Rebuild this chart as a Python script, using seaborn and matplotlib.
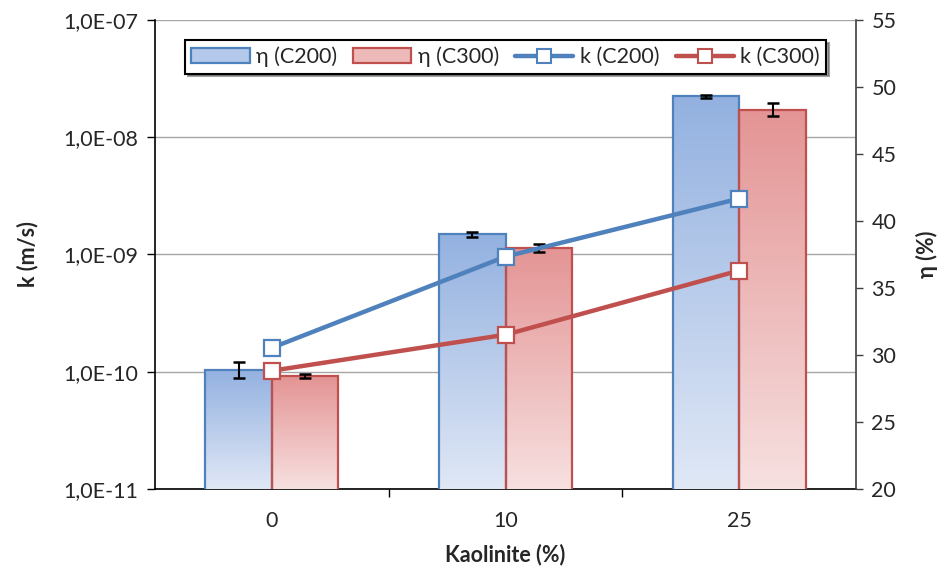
import numpy as np
import pandas as pd
import matplotlib
matplotlib.use("Agg")
import matplotlib.pyplot as plt
import seaborn as sns
from matplotlib.colors import LinearSegmentedColormap
from matplotlib.lines import Line2D
from matplotlib.patches import Patch

# ---- data ----
kaolinite = ["0", "10", "25"]
series = ["C200", "C300"]
eta_c200 = [28.9, 39.0, 49.3]
eta_c300 = [28.4, 38.0, 48.3]
eta_err_c200 = [0.6, 0.2, 0.1]
eta_err_c300 = [0.15, 0.3, 0.5]
k_c200 = [1.6e-10, 9.6e-10, 3.0e-9]
k_c300 = [1.02e-10, 2.07e-10, 7.3e-10]
k_ticks = [1e-11, 1e-10, 1e-9, 1e-8, 1e-7]
k_tick_labels = ["1,0E-11", "1,0E-10", "1,0E-09", "1,0E-08", "1,0E-07"]
eta_ticks = [20, 25, 30, 35, 40, 45, 50, 55]

blue = "#4f81bd"
red = "#c0504d"
blue_top, blue_bot = "#93b1e0", "#e0e8f6"
red_top, red_bot = "#e49494", "#f7e0e0"

FS = 15.5

sns.set_theme(style="white")
plt.rcParams["font.family"] = ["Lato", "DejaVu Sans"]

fig = plt.figure(figsize=(9.45, 5.73), dpi=100)
ax_k = fig.add_axes([0.164, 0.1466, 0.742, 0.8185])
ax_eta = ax_k.twinx()
ax_line = ax_k.twinx()

# ---- bars (eta, right axis) ----
df = pd.DataFrame({
    "Kaolinite": kaolinite * 2,
    "Series": [series[0]] * 3 + [series[1]] * 3,
    "eta": eta_c200 + eta_c300,
})
sns.barplot(data=df, x="Kaolinite", y="eta", hue="Series", order=kaolinite,
            hue_order=series, palette=[blue_top, red_top], width=0.57, gap=0,
            errorbar=None, legend=False, ax=ax_eta)
ax_eta.set_ylim(20, 55)
xlim = ax_eta.get_xlim()
ylo = ax_eta.get_ylim()[0]

grads = [(blue_top, blue_bot, blue), (red_top, red_bot, red)]
errs = [eta_err_c200, eta_err_c300]
for cont, (ctop, cbot, edge), err in zip(ax_eta.containers, grads, errs):
    cmap = LinearSegmentedColormap.from_list("g", [cbot, ctop])
    grad = np.linspace(0, 1, 256).reshape(-1, 1)
    centers, heights = [], []
    for p in cont.patches:
        x0, w, h = p.get_x(), p.get_width(), p.get_height()
        p.set_facecolor("none")
        p.set_edgecolor(edge)
        p.set_linewidth(1.6)
        p.set_zorder(3)
        im = ax_eta.imshow(grad, cmap=cmap, origin="lower", aspect="auto",
                           extent=[x0, x0 + w, ylo, h], zorder=2)
        im.set_clip_path(p)
        centers.append(x0 + w / 2)
        heights.append(h)
    ax_eta.errorbar(centers, heights, yerr=err, fmt="none", ecolor="black",
                    elinewidth=1.5, capsize=4, capthick=1.8, zorder=5)
ax_eta.set_xlim(xlim)
ax_eta.set_ylim(20, 55)
ax_eta.set_yticks(eta_ticks)
ax_eta.set_ylabel("η (%)", fontsize=FS, fontweight="bold", labelpad=14)
ax_eta.tick_params(axis="y", labelsize=FS, direction="out", length=5,
                   width=1, color="#404040", pad=6, right=True)

# ---- lines (k, left log axis) ----
ax_k.set_yscale("log")
ax_k.set_ylim(1e-11, 1e-7)
ax_line.set_yscale("log")
for vals, col in [(k_c200, blue), (k_c300, red)]:
    sns.pointplot(x=kaolinite, y=vals, order=kaolinite, color=col, markers="s",
                  linestyles="-", errorbar=None, ax=ax_line, linewidth=3.2,
                  markersize=11, markerfacecolor="white", markeredgecolor=col,
                  markeredgewidth=1.6)
ax_line.set_ylim(1e-11, 1e-7)
ax_line.yaxis.set_visible(False)
for s in ax_line.spines.values():
    s.set_visible(False)

ax_k.set_yticks(k_ticks)
ax_k.set_yticklabels(k_tick_labels)
ax_k.yaxis.set_minor_locator(matplotlib.ticker.NullLocator())
ax_k.yaxis.grid(True, color="#a6a6a6", linewidth=1)
ax_k.xaxis.grid(False)
ax_k.tick_params(axis="y", labelsize=FS, direction="out", length=6, width=1,
                 color="black", left=True, pad=6)
ax_k.set_ylabel("k (m/s)", fontsize=FS, fontweight="bold", labelpad=18)

# x axis
ax_k.set_xlim(xlim)
ax_k.set_xticks(range(len(kaolinite)))
ax_k.set_xticklabels(kaolinite)
ax_k.set_xticks([0.5, 1.5], minor=True)
ax_k.tick_params(axis="x", which="major", length=0, labelsize=FS, pad=16)
ax_k.tick_params(axis="x", which="minor", length=6, width=1, color="black",
                 direction="out", bottom=True)
ax_k.set_xlabel("Kaolinite (%)", fontsize=FS, fontweight="bold", labelpad=9)
ax_eta.set_xlabel("")
ax_line.set_xlabel("")

# spines
ax_k.spines["top"].set_visible(False)
ax_k.spines["right"].set_visible(False)
for s in ["left", "bottom"]:
    ax_k.spines[s].set_color("black")
    ax_k.spines[s].set_linewidth(1.2)
for s in ["left", "top", "bottom"]:
    ax_eta.spines[s].set_visible(False)
ax_eta.spines["right"].set_color("#404040")
ax_eta.spines["right"].set_linewidth(1.2)

# legend
handles = [
    Patch(facecolor="#b3c8ea", edgecolor=blue, linewidth=1.6),
    Patch(facecolor="#eeb9b9", edgecolor=red, linewidth=1.6),
    Line2D([], [], color=blue, lw=3.2, marker="s", markersize=10,
           markerfacecolor="white", markeredgecolor=blue, markeredgewidth=1.5),
    Line2D([], [], color=red, lw=3.2, marker="s", markersize=10,
           markerfacecolor="white", markeredgecolor=red, markeredgewidth=1.5),
]
labels = ["η (C200)", "η (C300)", "k (C200)", "k (C300)"]
leg = ax_line.legend(handles, labels, loc="upper center",
                     bbox_to_anchor=(0.5, 0.98), ncol=4, fontsize=FS,
                     frameon=True, fancybox=False, shadow=True,
                     handlelength=2.7, handletextpad=0.3, columnspacing=0.75,
                     borderpad=0.3)
leg.get_frame().set_edgecolor("black")
leg.get_frame().set_linewidth(1.5)

fig.savefig("out.png", dpi=100)
